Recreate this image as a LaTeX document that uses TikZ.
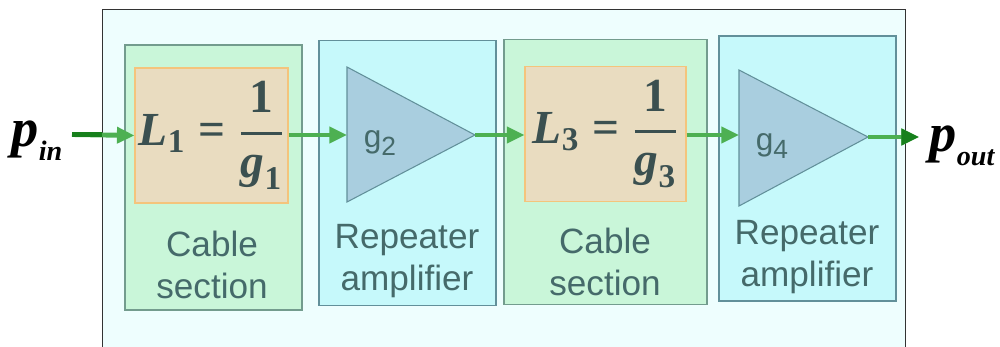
\RequirePackage{fix-cm}
\documentclass[tikz,border=0pt]{standalone}
\usepackage{amsmath}
\usepackage{fontspec}
\setmainfont{Liberation Serif}
\setsansfont{Liberation Sans}
\newfontfamily\timesfont{Liberation Serif}
\usepackage{tikz}
\usetikzlibrary{arrows.meta,positioning}
\definecolor{framefill}{HTML}{EEFEFE}
\definecolor{cablefill}{HTML}{C9F6D9}
\definecolor{cableline}{HTML}{739C8E}
\definecolor{lossfill}{HTML}{E9DCC0}
\definecolor{lossline}{HTML}{F4C47C}
\definecolor{repfill}{HTML}{C6F9FB}
\definecolor{repline}{HTML}{62909A}
\definecolor{ampfill}{HTML}{A9CEDF}
\definecolor{labeltext}{HTML}{456A6A}
\definecolor{mathtext}{HTML}{3B5050}
\definecolor{wirelight}{HTML}{4DB052}
\definecolor{wiredark}{HTML}{17801C}
\newcommand{\lossfrac}[1]{$\text{\itshape L}_{\text{#1}}\mathrel{\text{=}}
  \genfrac{}{}{1.5pt}{0}{\text{1}}{\text{\itshape g}_{\text{#1}}}$}

\begin{document}
\begin{tikzpicture}[
  x=0.02cm, y=-0.02cm,
  every node/.style={inner sep=0pt},
  outerframe/.style={rectangle, draw=black!80, fill=framefill, line width=0.6pt,
    minimum width=16.08cm, minimum height=7.02cm},
  cable/.style={rectangle, draw=cableline, fill=cablefill, line width=0.7pt,
    minimum width=3.54cm, minimum height=5.3cm},
  repeater/.style={rectangle, draw=repline, fill=repfill, line width=0.7pt,
    minimum width=3.54cm, minimum height=5.3cm},
  loss/.style={rectangle, draw=lossline, fill=lossfill, line width=0.6pt,
    minimum height=2.7cm, text=mathtext, font=\timesfont\bfseries\fontsize{27}{30}\selectfont},
  amp/.style={draw=repline, fill=ampfill, line width=0.6pt, line join=miter},
  gain/.style={text=labeltext, font=\sffamily\fontsize{18}{20}\selectfont},
  caption/.style={text=labeltext, align=center, font=\sffamily\fontsize{20}{24}\selectfont},
  port/.style={text=black, font=\timesfont\bfseries\itshape\fontsize{31}{34}\selectfont},
  wire/.style={-{Triangle[length=10pt,width=9pt]}, line width=2.8pt, wirelight},
  outwire/.style={-{Triangle[length=10pt,width=9pt]}, line width=2.8pt, wiredark},
]
\clip (0,0) rectangle (1000,347);

% Frame
\node[outerframe] (frame) at (504,184.5) {};

% Cable sections and repeaters
\node[cable] (cab1) at (213.5,177.5) {};
\node[repeater] (rep2) at (407.5,173) {};
\node[cable, minimum width=4.06cm] (cab3) at (605.5,172) {};
\node[repeater] (rep4) at (807.5,168.5) {};

% Losses
\node[loss, minimum width=3.06cm] (loss1) at (211.5,135.5) {\lossfrac{1}};
\node[loss, minimum width=3.22cm] (loss3) at (605.5,134) {\lossfrac{3}};

% Amplifiers
\draw[amp] (347,67) -- (475,135) coordinate (amp2out) -- (347,202) -- cycle;
\draw[amp] (739,70) -- (868,137) coordinate (amp4out) -- (739,206) -- cycle;
\coordinate (amp2w) at (347,135);
\coordinate (amp4w) at (739,135);
\node[gain] (g2) at (380,143) {g\raisebox{-4.5pt}{\fontsize{15}{15}\selectfont 2}};
\node[gain] (g4) at (772,146) {g\raisebox{-4.5pt}{\fontsize{15}{15}\selectfont 4}};

% Captions
\node[caption] (lab1) at (212,265) {Cable\\section};
\node[caption] (lab2) at (407,261) {Repeater\\amplifier};
\node[caption] (lab3) at (605,262) {Cable\\section};
\node[caption] (lab4) at (807,257) {Repeater\\amplifier};

% Ports
\node[port] (pin) at (37,141) {p\raisebox{-8pt}{\fontsize{16}{16}\selectfont in}};
\node[port] (pout) at (962,146) {p\raisebox{-8pt}{\fontsize{16}{16}\selectfont out}};

% Arrows
\draw[wire] (72,134.5) -- (loss1.west);
\draw[line width=2.8pt, wiredark] (72,134.5) -- (frame.west |- 0,134.5);
\draw[wire] (loss1.east |- amp2w) -- (amp2w);
\draw[wire] (amp2out) -- (loss3.west |- amp2out);
\draw[wire] (loss3.east |- amp4w) -- (amp4w);
\draw[wire] (amp4out) -- (919,137);
\draw[outwire] (frame.east |- amp4out) -- (919,137);
\end{tikzpicture}
\end{document}
